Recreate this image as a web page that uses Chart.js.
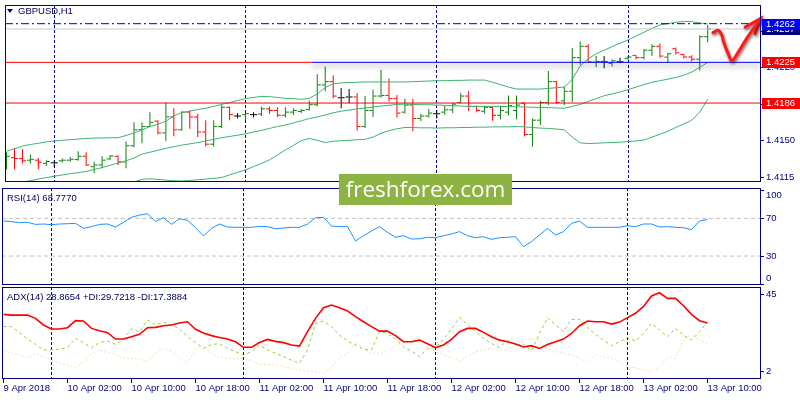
<!DOCTYPE html>
<html>
<head>
<meta charset="utf-8">
<script src="https://cdn.jsdelivr.net/npm/chart.js"></script>
<style>
  html, body { margin: 0; padding: 0; background: #fff; }
  #wrap { position: relative; width: 800px; height: 400px; overflow: hidden; background: #fff; }
  canvas { position: absolute; left: 0; }
  .lbl { position: absolute; font: 9.5px 'Liberation Sans', Arial, sans-serif; line-height: 11px; color: #000060; white-space: nowrap; }
  #tri { position: absolute; left: 7px; top: 9px; width: 0; height: 0;
         border-left: 3px solid transparent; border-right: 3px solid transparent; border-top: 4px solid #000080; }
  #wm { position: absolute; left: 339px; top: 174px; width: 173px; height: 31px; background: #8db443;
        color: #fff; font: 22.5px 'Open Sans', sans-serif; line-height: 30px; text-align: center; }
</style>
</head>
<body>
<div id="wrap">
  <canvas id="cPrice" width="800" height="187" style="top:0"></canvas>
  <canvas id="cRsi" width="800" height="99" style="top:187px"></canvas>
  <canvas id="cAdx" width="800" height="114" style="top:286px"></canvas>
  <div id="tri"></div>
  <div class="lbl" style="left:18px;top:5px">GBPUSD,H1</div>
  <div class="lbl" style="left:7px;top:192px">RSI(14) 68.7770</div>
  <div class="lbl" style="left:7px;top:291px">ADX(14) 28.8654 +DI:29.7218 -DI:17.3884</div>
  <div id="wm">freshforex.com</div>
</div>
<script>
// GBPUSD H1, bars from 9 Apr 18:00 to 13 Apr 10:00 (89 bars)
const opens = [
  1.41330, 1.41337, 1.41328, 1.41313, 1.41313, 1.41282, 1.41288, 1.41307, 1.41313, 1.41319,
  1.41350, 1.41251, 1.41267, 1.41325, 1.41350, 1.41297, 1.41451, 1.41604, 1.41635, 1.41687,
  1.41574, 1.41727, 1.41604, 1.41773, 1.41727, 1.41583, 1.41466, 1.41635, 1.41819, 1.41736,
  1.41749, 1.41749, 1.41755, 1.41804, 1.41789, 1.41743, 1.41773, 1.41779, 1.41798, 1.41844,
  1.42034, 1.42065, 1.41911, 1.41918, 1.41918, 1.41635, 1.41789, 1.41927, 1.41933, 1.41902,
  1.41773, 1.41841, 1.41712, 1.41736, 1.41758, 1.41773, 1.41795, 1.41865, 1.41927, 1.41828,
  1.41782, 1.41819, 1.41743, 1.41773, 1.41789, 1.41859, 1.41558, 1.41696, 1.41865, 1.42065,
  1.41881, 1.41973, 1.42295, 1.42403, 1.42252, 1.42255, 1.42240, 1.42255, 1.42289, 1.42317,
  1.42295, 1.42366, 1.42403, 1.42300, 1.42380, 1.42326, 1.42301, 1.42280, 1.42495
];
const highs = [
  1.41389, 1.41429, 1.41420, 1.41368, 1.41334, 1.41313, 1.41313, 1.41328, 1.41343, 1.41399,
  1.41389, 1.41297, 1.41350, 1.41362, 1.41359, 1.41491, 1.41675, 1.41675, 1.41773, 1.41696,
  1.41865, 1.41810, 1.41782, 1.41789, 1.41758, 1.41696, 1.41696, 1.41841, 1.41825, 1.41764,
  1.41767, 1.41773, 1.41825, 1.41825, 1.41819, 1.41819, 1.41810, 1.41804, 1.41881, 1.42135,
  1.42209, 1.42126, 1.42003, 1.41994, 1.41957, 1.41927, 1.41988, 1.42178, 1.42096, 1.41936,
  1.41902, 1.41902, 1.41758, 1.41804, 1.41789, 1.41835, 1.41865, 1.41957, 1.41973, 1.41835,
  1.41835, 1.41828, 1.41835, 1.41933, 1.41933, 1.41865, 1.41712, 1.41881, 1.42166, 1.42071,
  1.42019, 1.42387, 1.42449, 1.42424, 1.42310, 1.42310, 1.42280, 1.42295, 1.42310, 1.42320,
  1.42378, 1.42424, 1.42430, 1.42341, 1.42393, 1.42332, 1.42317, 1.42510, 1.42608
];
const lows = [
  1.41224, 1.41227, 1.41282, 1.41282, 1.41227, 1.41257, 1.41251, 1.41291, 1.41297, 1.41307,
  1.41257, 1.41190, 1.41236, 1.41313, 1.41267, 1.41236, 1.41436, 1.41475, 1.41635, 1.41558,
  1.41497, 1.41543, 1.41595, 1.41614, 1.41534, 1.41445, 1.41445, 1.41620, 1.41696, 1.41712,
  1.41696, 1.41721, 1.41736, 1.41758, 1.41727, 1.41721, 1.41743, 1.41764, 1.41789, 1.41828,
  1.41973, 1.41905, 1.41810, 1.41859, 1.41598, 1.41620, 1.41727, 1.41911, 1.41875, 1.41721,
  1.41758, 1.41589, 1.41687, 1.41721, 1.41712, 1.41749, 1.41764, 1.41859, 1.41782, 1.41773,
  1.41758, 1.41690, 1.41706, 1.41743, 1.41706, 1.41543, 1.41442, 1.41650, 1.41841, 1.41850,
  1.41841, 1.41871, 1.42228, 1.42249, 1.42203, 1.42194, 1.42209, 1.42240, 1.42271, 1.42280,
  1.42280, 1.42310, 1.42295, 1.42249, 1.42326, 1.42286, 1.42258, 1.42172, 1.42442
];
const closes = [
  1.41350, 1.41328, 1.41307, 1.41322, 1.41294, 1.41300, 1.41288, 1.41313, 1.41322, 1.41350,
  1.41267, 1.41267, 1.41313, 1.41353, 1.41297, 1.41451, 1.41604, 1.41635, 1.41675, 1.41574,
  1.41727, 1.41604, 1.41773, 1.41727, 1.41583, 1.41466, 1.41635, 1.41819, 1.41749, 1.41736,
  1.41758, 1.41749, 1.41804, 1.41789, 1.41743, 1.41773, 1.41789, 1.41789, 1.41844, 1.42034,
  1.42065, 1.41927, 1.41911, 1.41918, 1.41635, 1.41789, 1.41927, 1.41933, 1.41902, 1.41764,
  1.41841, 1.41712, 1.41736, 1.41764, 1.41758, 1.41795, 1.41850, 1.41927, 1.41828, 1.41789,
  1.41819, 1.41743, 1.41789, 1.41835, 1.41841, 1.41558, 1.41696, 1.41865, 1.42065, 1.41865,
  1.41973, 1.42295, 1.42403, 1.42255, 1.42258, 1.42255, 1.42264, 1.42255, 1.42301, 1.42295,
  1.42366, 1.42403, 1.42310, 1.42332, 1.42341, 1.42301, 1.42280, 1.42495, 1.42571
];

// Bollinger bands (20, 2)
const bbUpper = [
  1.41399, 1.41423, 1.41448, 1.41463, 1.41475, 1.41488, 1.41497, 1.41503, 1.41509, 1.41515,
  1.41521, 1.41525, 1.41525, 1.41528, 1.41528, 1.41549, 1.41574, 1.41601, 1.41635, 1.41657,
  1.41687, 1.41736, 1.41770, 1.41782, 1.41798, 1.41810, 1.41828, 1.41847, 1.41865, 1.41884,
  1.41902, 1.41914, 1.41924, 1.41921, 1.41914, 1.41905, 1.41902, 1.41896, 1.41905, 1.41948,
  1.42010, 1.42043, 1.42053, 1.42056, 1.42059, 1.42062, 1.42062, 1.42062, 1.42062, 1.42062,
  1.42062, 1.42065, 1.42068, 1.42071, 1.42074, 1.42074, 1.42077, 1.42077, 1.42080, 1.42080,
  1.42080, 1.42059, 1.42037, 1.42013, 1.41994, 1.41994, 1.41994, 1.41994, 1.42000, 1.42007,
  1.42013, 1.42086, 1.42215, 1.42283, 1.42332, 1.42366, 1.42400, 1.42433, 1.42464, 1.42501,
  1.42538, 1.42575, 1.42608, 1.42621, 1.42633, 1.42642, 1.42639, 1.42627, 1.42617
];
const bbMiddle = [
  1.41073, 1.41089, 1.41104, 1.41116, 1.41132, 1.41147, 1.41159, 1.41172, 1.41184, 1.41193,
  1.41205, 1.41224, 1.41242, 1.41264, 1.41285, 1.41307, 1.41334, 1.41371, 1.41389, 1.41408,
  1.41426, 1.41442, 1.41457, 1.41469, 1.41482, 1.41497, 1.41512, 1.41528, 1.41540, 1.41552,
  1.41564, 1.41583, 1.41598, 1.41617, 1.41635, 1.41650, 1.41669, 1.41690, 1.41712, 1.41727,
  1.41746, 1.41767, 1.41782, 1.41792, 1.41804, 1.41813, 1.41822, 1.41832, 1.41838, 1.41847,
  1.41850, 1.41847, 1.41844, 1.41844, 1.41841, 1.41838, 1.41835, 1.41832, 1.41828, 1.41828,
  1.41828, 1.41828, 1.41828, 1.41825, 1.41825, 1.41822, 1.41819, 1.41819, 1.41816, 1.41813,
  1.41810, 1.41828, 1.41847, 1.41875, 1.41902, 1.41930, 1.41948, 1.41967, 1.41988, 1.42013,
  1.42037, 1.42059, 1.42074, 1.42089, 1.42105, 1.42126, 1.42157, 1.42203, 1.42249
];
const bbLower = [
  1.40748, 1.40754, 1.40760, 1.40769, 1.40788, 1.40806, 1.40822, 1.40840, 1.40858, 1.40871,
  1.40889, 1.40923, 1.40960, 1.41000, 1.41043, 1.41064, 1.41104, 1.41129, 1.41135, 1.41129,
  1.41122, 1.41116, 1.41113, 1.41119, 1.41125, 1.41132, 1.41138, 1.41147, 1.41172, 1.41196,
  1.41221, 1.41251, 1.41282, 1.41316, 1.41362, 1.41411, 1.41454, 1.41500, 1.41521, 1.41503,
  1.41482, 1.41494, 1.41500, 1.41503, 1.41509, 1.41512, 1.41534, 1.41571, 1.41595, 1.41614,
  1.41626, 1.41626, 1.41623, 1.41623, 1.41620, 1.41623, 1.41623, 1.41626, 1.41626, 1.41629,
  1.41629, 1.41632, 1.41632, 1.41632, 1.41635, 1.41632, 1.41626, 1.41620, 1.41617, 1.41611,
  1.41604, 1.41534, 1.41479, 1.41472, 1.41475, 1.41479, 1.41482, 1.41485, 1.41491, 1.41497,
  1.41506, 1.41534, 1.41561, 1.41589, 1.41626, 1.41660, 1.41696, 1.41773, 1.41896
];

const rsi = [
  67.2, 66.5, 65.4, 65.8, 63.6, 64.0, 63.3, 64.0, 64.3, 64.7,
  59.4, 61.2, 63.6, 64.0, 60.8, 65.8, 71.1, 73.5, 74.9, 66.5,
  70.7, 63.6, 69.6, 67.9, 60.1, 51.3, 59.4, 64.0, 60.8, 60.5,
  60.5, 60.5, 61.5, 61.2, 59.0, 59.8, 60.5, 60.5, 64.0, 70.7,
  71.1, 61.9, 61.2, 61.2, 46.0, 51.6, 56.6, 61.2, 55.2, 49.9,
  51.6, 48.1, 48.4, 49.9, 49.5, 51.6, 53.4, 55.9, 51.6, 49.5,
  50.6, 47.7, 49.5, 49.9, 50.6, 40.0, 45.3, 52.3, 59.4, 52.3,
  55.9, 64.7, 67.2, 60.5, 60.5, 60.5, 60.5, 60.5, 62.2, 61.2,
  64.0, 64.0, 60.8, 61.2, 60.5, 60.1, 58.0, 67.2, 68.78
];
const adx = [
  33.7, 33.3, 33.3, 33.3, 31.5, 27.8, 25.6, 25.6, 26.3, 30.2,
  30.0, 25.9, 24.6, 23.5, 20.0, 20.0, 21.3, 22.6, 26.3, 26.5,
  27.4, 27.8, 28.9, 29.6, 25.4, 23.3, 21.9, 20.9, 20.0, 18.5,
  15.4, 15.4, 18.1, 19.8, 18.7, 18.0, 16.7, 16.1, 24.1, 31.5,
  37.4, 38.9, 37.4, 35.6, 32.4, 29.6, 26.9, 24.4, 24.4, 21.9,
  18.5, 18.5, 19.4, 17.4, 15.2, 16.7, 19.8, 24.1, 25.9, 25.9,
  23.7, 21.3, 19.4, 18.5, 17.2, 15.6, 16.3, 14.8, 16.9, 18.5,
  20.0, 23.1, 27.4, 30.0, 29.6, 29.6, 28.3, 29.4, 31.9, 34.3,
  38.1, 43.9, 45.7, 42.6, 42.6, 38.5, 33.7, 30.2, 28.87
];
const plusDI = [
  26.9, 26.9, 23.5, 20.0, 17.0, 13.9, 14.1, 14.4, 15.2, 20.4,
  18.0, 15.2, 18.1, 18.9, 17.0, 19.8, 25.6, 24.1, 30.6, 27.8,
  29.3, 27.8, 25.6, 21.3, 18.1, 14.8, 17.0, 17.4, 14.8, 13.0,
  11.1, 13.0, 16.7, 13.9, 12.0, 10.2, 8.3, 6.5, 13.9, 28.7,
  30.0, 26.9, 22.2, 18.9, 16.7, 14.3, 13.9, 24.1, 23.1, 20.0,
  15.7, 13.3, 10.2, 14.8, 15.2, 20.0, 25.6, 31.9, 28.1, 24.1,
  20.4, 17.6, 15.2, 19.4, 17.0, 17.0, 13.5, 23.1, 31.9, 27.8,
  24.1, 30.9, 30.9, 26.3, 22.6, 19.4, 16.3, 18.5, 20.7, 18.9,
  23.1, 28.7, 25.0, 21.3, 25.9, 22.2, 19.4, 24.1, 29.72
];
const minusDI = [
  13.9, 12.0, 11.1, 9.6, 12.0, 10.2, 8.3, 6.5, 5.6, 4.1,
  7.4, 12.0, 13.9, 12.4, 11.5, 9.3, 9.3, 8.7, 7.8, 12.0,
  14.8, 13.0, 9.6, 6.9, 13.9, 16.7, 12.0, 9.6, 9.3, 9.3,
  9.3, 7.8, 5.9, 5.9, 5.6, 4.6, 3.7, 2.8, 2.2, 1.9,
  0.9, 4.1, 9.6, 12.0, 18.5, 14.8, 12.0, 12.0, 13.0, 16.7,
  17.6, 19.4, 20.4, 15.7, 13.0, 11.1, 9.6, 7.8, 10.7, 13.0,
  13.9, 14.8, 13.9, 13.9, 16.7, 19.4, 20.4, 18.9, 14.4, 13.0,
  12.0, 11.1, 9.3, 6.9, 11.1, 10.2, 9.3, 7.4, 4.6, 4.1,
  2.8, 1.9, 4.6, 10.2, 9.3, 20.4, 22.2, 19.4, 17.39
];

// axes
const xTickIdx = [0, 8, 16, 24, 32, 40, 48, 56, 64, 72, 80, 88];
const xTickLabels = ['9 Apr 2018', '10 Apr 02:00', '10 Apr 10:00', '10 Apr 18:00', '11 Apr 02:00', '11 Apr 10:00',
                     '11 Apr 18:00', '12 Apr 02:00', '12 Apr 10:00', '12 Apr 18:00', '13 Apr 02:00', '13 Apr 10:00'];
const dayIdx = [6, 30, 54, 78];
const priceTicks = [1.4115, 1.4150, 1.4185, 1.4220, 1.4255];
const rsiTicks = [0, 30, 70, 100];
const rsiLevels = [30, 70];
const adxTicks = [2, 45];

// drawn objects
const resistLevel = 1.4262;
const bidLevel = 1.4257;
const midLevel = 1.4225;
const midLevelBlueFrom = 38.25;
const lowLevel = 1.4186;
const boxLevels = [1.4257, 1.4262, 1.4225, 1.4186];
const boxLabels = ['1.4257', '1.4262', '1.4225', '1.4186'];
const boxColors = ['#000080', '#0000ff', '#ff0000', '#ff0000'];
const arrowX = [88.65, 89.35, 89.78, 89.98, 90.6, 91.03, 91.65, 92.9, 94.15, 94.65];
const arrowY = [1.42534, 1.42556, 1.42510, 1.42449, 1.42326, 1.42264, 1.42326, 1.42479, 1.42617, 1.42670];
const headX = [92.69, 94.65, 93.94];
const headY = [1.42587, 1.42670, 1.42525];

const NAVY = '#000080';
const FONT = { family: "'Liberation Sans', Arial, sans-serif", size: 9.5 };
const X_MIN = -0.1875, X_MAX = 94.6875;

const pts = (xs, ys) => ys.map((v, i) => ({ x: xs ? xs[i] : i, y: v }));
const hline = (v, x0, x1) => [{ x: x0, y: v }, { x: x1, y: v }];
const lineDs = (data, color, extra) => Object.assign({
  type: 'line', data, borderColor: color, borderWidth: 1, pointRadius: 0, tension: 0, fill: false
}, extra || {});

const barColors = opens.map((o, i) => closes[i] > o ? '#0a800a' : closes[i] < o ? '#ff0000' : '#000000');

function xScale(show) {
  return {
    type: 'linear', min: X_MIN, max: X_MAX, offset: false, display: show,
    grid: { display: show, offset: false, drawOnChartArea: false, tickLength: 4, color: NAVY },
    border: { display: false },
    ticks: { autoSkip: false, maxRotation: 0, minRotation: 0, align: 'start', padding: 0, color: NAVY, font: FONT,
             callback: v => xTickLabels[xTickIdx.indexOf(v)] },
    afterBuildTicks: a => { a.ticks = xTickIdx.map(v => ({ value: v })); },
    afterFit: a => { a.height = show ? 21 : 0; a.paddingLeft = 0; a.paddingRight = 0; }
  };
}
function yScale(min, max, ticks, cb) {
  return {
    position: 'right', min, max,
    grid: { drawOnChartArea: false, drawTicks: true, tickLength: 3, color: NAVY },
    border: { display: false },
    ticks: { autoSkip: false, color: NAVY, font: FONT, padding: 2, callback: cb },
    afterBuildTicks: a => { a.ticks = ticks.map(v => ({ value: v })); },
    afterFit: a => { a.width = 39; a.paddingTop = 0; a.paddingBottom = 0; }
  };
}
function opts(padding, scales) {
  return {
    responsive: false, animation: false, devicePixelRatio: 1, events: [],
    layout: { padding },
    plugins: { legend: { display: false }, tooltip: { enabled: false } },
    scales
  };
}

// frame + dotted day separators
const paneDecor = {
  id: 'paneDecor',
  beforeDatasetsDraw(chart) {
    const { ctx, chartArea: a, scales: { x } } = chart;
    ctx.save();
    ctx.strokeStyle = NAVY; ctx.lineWidth = 1; ctx.setLineDash([3, 2]);
    dayIdx.forEach(i => {
      const px = Math.floor(x.getPixelForValue(i)) + 0.5;
      ctx.beginPath(); ctx.moveTo(px, a.top); ctx.lineTo(px, a.bottom); ctx.stroke();
    });
    ctx.restore();
  },
  afterDatasetsDraw(chart) {
    const { ctx, chartArea: a } = chart;
    ctx.save();
    ctx.strokeStyle = NAVY; ctx.lineWidth = 1;
    ctx.strokeRect(a.left + 0.5, a.top + 0.5, a.right - a.left - 1, a.bottom - a.top - 1);
    ctx.restore();
  }
};

// drop shadow for selected objects (dataset.shadow)
const objShadow = {
  id: 'objShadow',
  beforeDatasetDraw(chart, args) {
    const s = chart.data.datasets[args.index].shadow;
    if (!s) return;
    const ctx = chart.ctx;
    ctx.save();
    ctx.shadowColor = s.color; ctx.shadowBlur = s.blur;
    ctx.shadowOffsetX = s.dx; ctx.shadowOffsetY = s.dy;
  },
  afterDatasetDraw(chart, args) {
    if (chart.data.datasets[args.index].shadow) chart.ctx.restore();
  }
};

const priceBoxes = {
  id: 'priceBoxes',
  afterDraw(chart) {
    const { ctx, chartArea: a, scales: { y } } = chart;
    ctx.save();
    ctx.font = FONT.size + 'px ' + FONT.family;
    ctx.textBaseline = 'middle';
    boxLevels.forEach((v, k) => {
      const py = Math.round(y.getPixelForValue(v));
      ctx.fillStyle = boxColors[k];
      ctx.fillRect(a.right + 1, py - 5, chart.width - a.right, 11);
      ctx.fillStyle = '#ffffff';
      ctx.fillText(boxLabels[k], a.right + 5, py + 0.5);
    });
    ctx.restore();
  }
};

const arrowShadow = { color: 'rgba(60,0,0,0.6)', blur: 3, dx: 1, dy: 2 };

// price pane
new Chart(document.getElementById('cPrice'), {
  type: 'bar',
  data: {
    datasets: [
      lineDs(pts(arrowX, arrowY), '#ff1a1a', { borderWidth: 3, tension: 0.35, clip: false, order: 0,
        borderCapStyle: 'round', borderJoinStyle: 'round', shadow: arrowShadow }),
      lineDs(pts(headX, headY), '#ff1a1a', { borderWidth: 3, clip: false, order: 0, borderCapStyle: 'round',
        shadow: arrowShadow }),
      lineDs(hline(resistLevel, X_MIN, X_MAX), '#0000a0', { borderDash: [8, 3, 2, 3], order: 1 }),
      lineDs(hline(bidLevel, X_MIN, X_MAX), '#c8c8c8', { order: 1 }),
      lineDs(hline(midLevel, X_MIN, midLevelBlueFrom), '#ff0000', { order: 1 }),
      lineDs(hline(midLevel, midLevelBlueFrom, X_MAX), '#0000ff', { order: 1,
        shadow: { color: 'rgba(0,0,0,0.7)', blur: 6, dx: 0, dy: 3 } }),
      lineDs(hline(lowLevel, X_MIN, X_MAX), '#ff0000', { order: 1 }),
      lineDs(pts(null, bbUpper), '#3cb371', { order: 2 }),
      lineDs(pts(null, bbMiddle), '#3cb371', { order: 2 }),
      lineDs(pts(null, bbLower), '#3cb371', { order: 2 }),
      {
        type: 'bar', order: 3,
        data: opens.map((_, i) => ({ x: i, y: [lows[i], highs[i]] })),
        backgroundColor: barColors, barThickness: 1, inflateAmount: 0, borderWidth: 0, borderSkipped: false
      },
      lineDs(opens.map((v, i) => ({ x: i - 0.25, y: v })), 'transparent', {
        showLine: false, order: 3, pointStyle: 'line', pointRadius: 1.5, pointBorderWidth: 1, pointBorderColor: barColors }),
      lineDs(closes.map((v, i) => ({ x: i + 0.25, y: v })), 'transparent', {
        showLine: false, order: 3, pointStyle: 'line', pointRadius: 1.5, pointBorderWidth: 1, pointBorderColor: barColors })
    ]
  },
  options: opts({ left: 2, top: 2, right: 0, bottom: 1 }, {
    x: xScale(false),
    y: yScale(1.41104, 1.42799, priceTicks, v => v.toFixed(4))
  }),
  plugins: [paneDecor, objShadow, priceBoxes]
});

// RSI pane
new Chart(document.getElementById('cRsi'), {
  type: 'line',
  data: {
    datasets: [
      lineDs(pts(null, rsi), '#1e90ff', { order: 0 }),
      ...rsiLevels.map(l => lineDs(hline(l, X_MIN, X_MAX), '#c0c0c0', { borderDash: [4, 3], order: 1 }))
    ]
  },
  options: opts({ left: 2, top: 1, right: 0, bottom: 1 }, {
    x: xScale(false),
    y: yScale(-0.7, 102.2, rsiTicks, v => v === 100 ? ['', '100'] : v === 0 ? ['0', ''] : String(v))
  }),
  plugins: [paneDecor]
});

// ADX pane
new Chart(document.getElementById('cAdx'), {
  type: 'line',
  data: {
    datasets: [
      lineDs(pts(null, adx), '#ff0000', { borderWidth: 1.6, order: 0 }),
      lineDs(pts(null, plusDI), '#9acd32', { borderDash: [3, 3], order: 1 }),
      lineDs(pts(null, minusDI), '#f5deb3', { borderDash: [2, 2], order: 2 })
    ]
  },
  options: opts({ left: 2, top: 1, right: 0, bottom: 0 }, {
    x: xScale(true),
    y: yScale(-2.2, 48.9, adxTicks, v => String(v))
  }),
  plugins: [paneDecor]
});
</script>
</body>
</html>
